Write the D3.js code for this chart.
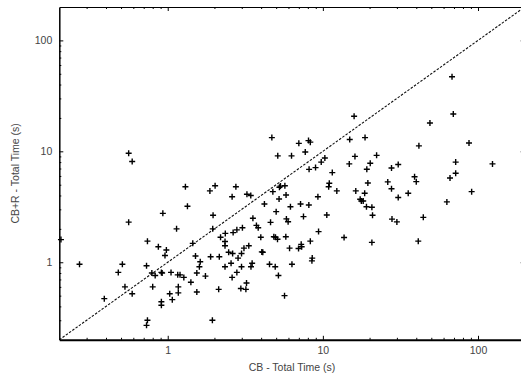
<!DOCTYPE html>
<html>
<head>
<meta charset="utf-8">
<script src="https://cdn.jsdelivr.net/npm/d3@7"></script>
<style>
  body { margin: 0; background: #fff; }
  svg { display: block; font-family: "Liberation Sans", Arial, sans-serif; }
</style>
</head>
<body>
<script>
// CB total time (x) and CB+R total time (y), seconds, same order
const cbTime = [0.205, 0.27, 0.39, 0.48, 0.51, 0.53, 0.56, 0.59, 0.56, 0.59,
  0.74, 0.73, 0.74, 0.73, 0.79, 0.83, 0.80, 0.87, 0.91, 0.93,
  0.91, 0.91, 0.92, 0.98, 0.96, 1.05, 1.03, 1.07, 1.14, 1.16,
  1.2, 1.17, 1.17, 1.27, 1.3, 1.34, 1.41, 1.45, 1.51, 1.54,
  1.54, 1.6, 1.62, 1.75, 1.87, 1.89, 1.95, 1.96, 2.02, 1.94,
  2.13, 2.15, 2.19, 2.34, 2.34, 2.35, 2.34, 2.47, 2.6, 2.6,
  2.64, 2.62, 2.75, 2.79, 2.79, 2.84, 2.96, 2.99, 3.03, 3.1,
  3.19, 3.22, 3.24, 3.33, 3.43, 3.44, 3.5, 3.54, 3.73, 3.83,
  3.98, 4.04, 4.1, 4.2, 4.53, 4.6, 4.69, 4.76, 4.83, 4.93,
  4.95, 5.0, 5.1, 5.12, 5.17, 5.25, 5.22, 5.33, 5.69, 5.66,
  5.77, 5.79, 5.82, 5.97, 6.1, 6.18, 6.28, 6.32, 6.97, 7.0,
  7.18, 7.25, 7.3, 7.5, 7.7, 8.08, 8.15, 8.12, 8.3, 8.3,
  8.54, 8.5, 8.97, 9.29, 9.38, 9.76, 10.3, 10.6, 10.9, 11.0,
  11.5, 12.3, 13.7, 14.8, 14.9, 15.9, 16.1, 16.3, 17.4, 17.7,
  18.2, 18.7, 18.6, 19.1, 19.2, 19.5, 20.2, 20.7, 20.9, 20.7,
  22.2, 26.2, 27.7, 27.7, 27.9, 30, 30.6, 30.6, 35.5, 39,
  40, 41.2, 41.6, 44.4, 49, 63, 66, 68, 69.3, 71.8,
  71.8, 87.5, 124, 91, 2.99, 2.56];
const cbrTime = [1.6, 0.96, 0.47, 0.81, 0.96, 0.6, 9.6, 8.1, 2.3, 0.52,
  1.55, 0.93, 0.30, 0.27, 0.80, 0.76, 0.60, 1.38, 0.81, 2.76,
  0.44, 0.41, 0.80, 1.29, 1.15, 0.81, 0.52, 0.46, 2.0, 0.77,
  0.77, 0.60, 0.53, 0.73, 4.8, 3.2, 0.66, 1.48, 1.14, 0.80,
  0.54, 0.91, 1.01, 0.75, 4.4, 1.12, 2.0, 2.65, 4.9, 0.30,
  0.57, 1.12, 1.68, 1.54, 1.41, 1.82, 0.91, 1.23, 3.9, 0.73,
  1.85, 1.2, 4.8, 1.96, 0.81, 1.09, 0.58, 0.91, 2.05, 1.34,
  0.57, 0.65, 4.1, 1.41, 4.0, 0.91, 0.98, 2.49, 2.15, 2.05,
  1.68, 1.24, 1.23, 3.35, 0.96, 2.29, 13.3, 4.33, 1.70, 0.91,
  1.68, 2.86, 1.61, 9.1, 0.76, 4.74, 3.72, 4.86, 4.9, 0.50,
  1.70, 4.04, 2.46, 2.32, 1.34, 3.17, 9.1, 0.96, 1.33, 11.8,
  3.35, 1.45, 1.38, 2.58, 9.86, 12.5, 6.88, 3.28, 12.1, 1.55,
  1.09, 1.03, 7.13, 3.9, 1.89, 8.0, 8.7, 2.67, 4.8, 5.15,
  6.43, 4.4, 1.67, 7.7, 12.8, 20.7, 9.0, 4.4, 3.7, 3.57,
  3.57, 13.3, 4.19, 3.17, 6.9, 5.18, 7.8, 3.13, 2.65, 1.51,
  9.2, 5.3, 7.08, 4.6, 2.45, 2.31, 7.6, 3.83, 4.19, 5.9,
  5.33, 1.55, 11.2, 2.54, 18, 3.5, 5.75, 47, 21.7, 6.34,
  8.0, 11.9, 7.7, 4.33, 1.2, 0.98];

const domain = [0.2, 200];
const majorTicks = [1, 10, 100];
const minorTicks = [0.3, 0.4, 0.5, 0.6, 0.7, 0.8, 0.9, 2, 3, 4, 5, 6, 7, 8, 9,
  20, 30, 40, 50, 60, 70, 80, 90];

const W = 521, H = 376;
const margin = {left: 59.3, right: 524.7, top: 7, bottom: 339.8};
const width = margin.right - margin.left, height = margin.bottom - margin.top;

const svg = d3.select("body").append("svg")
  .attr("width", W).attr("height", H);
const g = svg.append("g").attr("transform", "translate(" + margin.left + "," + margin.top + ")");

const x = d3.scaleLog().domain(domain).range([0, width]);
const y = d3.scaleLog().domain(domain).range([height, 0]);

// clip for the diagonal
svg.append("clipPath").attr("id", "clip")
  .append("rect").attr("width", width).attr("height", height);

g.append("line")
  .attr("clip-path", "url(#clip)")
  .attr("x1", x(domain[0])).attr("y1", y(domain[0]))
  .attr("x2", x(domain[1])).attr("y2", y(domain[1]))
  .attr("stroke", "#111").attr("stroke-width", 1.1)
  .attr("stroke-dasharray", "2.5,1.5");

// axes: ticks pointing inward
function styleAxis(sel, w) {
  sel.select(".domain").attr("stroke", "#000").attr("stroke-width", w);
  sel.selectAll(".tick line").attr("stroke", "#000");
  sel.selectAll(".tick text").attr("fill", "#444").style("font-size", "10.5px");
}

// minor ticks first
g.append("g").attr("transform", "translate(0," + height + ")")
  .call(d3.axisBottom(x).tickValues(minorTicks).tickSize(-2).tickFormat(""))
  .call(s => s.select(".domain").remove())
  .selectAll("line").attr("stroke", "#000");
g.append("g")
  .call(d3.axisTop(x).tickValues(minorTicks).tickSize(-2).tickFormat(""))
  .call(s => s.select(".domain").remove())
  .selectAll("line").attr("stroke", "#000");
g.append("g")
  .call(d3.axisLeft(y).tickValues(minorTicks).tickSize(-2).tickFormat(""))
  .call(s => s.select(".domain").remove())
  .selectAll("line").attr("stroke", "#000");
g.append("g").attr("transform", "translate(" + width + ",0)")
  .call(d3.axisRight(y).tickValues(minorTicks).tickSize(-2).tickFormat(""))
  .call(s => s.select(".domain").remove())
  .selectAll("line").attr("stroke", "#000");

const xAxis = g.append("g").attr("transform", "translate(0," + height + ")")
  .call(d3.axisBottom(x).tickValues(majorTicks).tickSize(-4).tickPadding(7)
    .tickFormat(d3.format("d")).tickSizeOuter(0));
styleAxis(xAxis, 2);

g.append("g")
  .call(d3.axisTop(x).tickValues(majorTicks).tickSize(-4).tickFormat("").tickSizeOuter(0))
  .call(s => styleAxis(s, 1));

const yAxis = g.append("g")
  .call(d3.axisLeft(y).tickValues(majorTicks).tickSize(-4).tickPadding(7)
    .tickFormat(d3.format("d")).tickSizeOuter(0));
styleAxis(yAxis, 1.5);

g.append("g").attr("transform", "translate(" + width + ",0)")
  .call(d3.axisRight(y).tickValues(majorTicks).tickSize(-4).tickFormat("").tickSizeOuter(0))
  .call(s => styleAxis(s, 1));

// axis titles
svg.append("text")
  .attr("x", margin.left + width / 2).attr("y", 371)
  .attr("text-anchor", "middle")
  .attr("fill", "#444").style("font-size", "10.5px")
  .text("CB - Total Time (s)");
svg.append("text")
  .attr("transform", "translate(19," + (margin.top + height / 2) + ") rotate(-90)")
  .attr("text-anchor", "middle")
  .attr("fill", "#444").style("font-size", "10.5px")
  .text("CB+R - Total Time (s)");

// points as "+" markers
g.selectAll(".pt")
  .data(cbTime.map((d, i) => ({x: d, y: cbrTime[i]})))
  .enter()
  .append("path")
  .attr("class", "pt")
  .attr("transform", d => "translate(" + x(d.x) + "," + y(d.y) + ")")
  .attr("d", "M-3,0H3M0,-3V3")
  .attr("stroke", "#000")
  .attr("stroke-width", 1.4)
  .attr("fill", "none");
</script>
</body>
</html>
